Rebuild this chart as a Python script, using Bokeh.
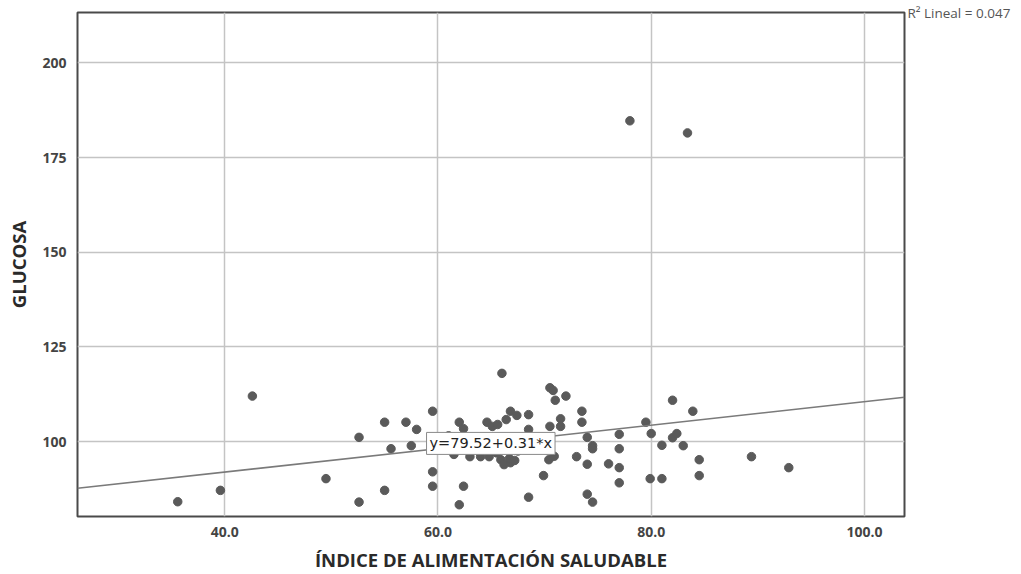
from bokeh.plotting import figure
from bokeh.models import Range1d, FixedTicker, PrintfTickFormatter, Label, ColumnDataSource, LinearAxis
from bokeh.embed import file_html
from bokeh.resources import INLINE

# Data
indice = [35.6, 39.6, 42.6, 49.5, 52.6, 52.6, 55.0, 55.0, 55.6, 57.0,
          57.5, 58.0, 59.5, 59.5, 59.5, 62.0, 62.4, 62.4, 62.0, 61.5,
          63.0, 64.0, 64.8, 64.6, 65.1, 65.6, 66.0, 66.4, 66.8, 67.4,
          68.5, 68.5, 65.9, 66.2, 66.8, 66.7, 67.2, 68.5, 69.9, 70.4,
          70.9, 70.5, 70.8, 71.0, 72.0, 71.5, 71.5, 70.5, 73.5, 73.5,
          74.0, 74.5, 74.5, 73.0, 74.0, 76.0, 77.0, 77.0, 77.0, 77.0,
          74.0, 74.5, 78.0, 83.4, 79.5, 80.0, 81.0, 79.9, 81.0, 82.0,
          83.9, 82.0, 82.4, 83.0, 84.5, 84.5, 89.4, 92.9,
          63.5, 65.0, 66.5, 68.0, 61.0, 67.5, 69.0, 65.5, 62.5]
glucosa = [84.1, 87.1, 112.0, 90.2, 101.1, 84.0, 105.1, 87.1, 98.1, 105.1,
           98.9, 103.2, 108.0, 92.0, 88.2, 105.1, 103.4, 88.2, 83.3, 96.6,
           96.0, 96.0, 96.0, 105.1, 104.0, 104.5, 118.0, 105.8, 108.0, 106.9,
           107.1, 103.2, 95.2, 93.9, 94.4, 95.5, 95.0, 85.3, 91.0, 95.2,
           96.1, 114.2, 113.5, 110.9, 112.0, 106.0, 104.0, 104.0, 108.0, 105.1,
           101.1, 98.9, 98.1, 96.0, 94.0, 94.1, 101.9, 98.1, 93.1, 89.1,
           86.1, 84.0, 184.7, 181.5, 105.1, 102.1, 99.0, 90.2, 90.2, 110.9,
           108.0, 101.0, 102.1, 98.9, 95.2, 91.0, 96.0, 93.1,
           100.5, 99.5, 100.0, 101.0, 101.5, 97.5, 99.0, 97.0, 98.5]

x_ticks = [40, 60, 80, 100]
y_ticks = [100, 125, 150, 175, 200]
intercept = 79.52
slope = 0.31
r2_text = "R\u00b2 Lineal = 0.047"
eq_text = "y=79.52+0.31*x"

X0, X1 = 26.2, 103.75
Y0, Y1 = 80.2, 213.3

W, H = 1021, 574
p = figure(width=W, height=H, output_backend="svg", toolbar_location=None,
           x_range=Range1d(X0, X1), y_range=Range1d(Y0, Y1),
           min_border_left=77, min_border_right=117, min_border_top=12, min_border_bottom=41,
           background_fill_color="white", border_fill_color="white")

p.outline_line_color = "#4a4a4a"
p.outline_line_width = 2

for ax in (p.xaxis[0], p.yaxis[0]):
    ax.axis_line_color = None
    ax.major_tick_line_color = None
    ax.minor_tick_line_color = None
    ax.major_label_text_font = "Open Sans"
    ax.major_label_text_font_style = "bold"
    ax.major_label_text_font_size = "14px"
    ax.major_label_text_color = "#444444"
    ax.axis_label_text_font = "Open Sans"
    ax.axis_label_text_font_style = "bold"
    ax.axis_label_text_font_size = "18.5px"
    ax.axis_label_text_color = "#2a2a2a"

p.xaxis.ticker = FixedTicker(ticks=x_ticks)
p.yaxis.ticker = FixedTicker(ticks=y_ticks)
p.xaxis.formatter = PrintfTickFormatter(format="%.1f")
p.xaxis.axis_label = "ÍNDICE DE ALIMENTACIÓN SALUDABLE"
p.yaxis.axis_label = "GLUCOSA"
p.xaxis.major_label_standoff = 4
p.yaxis.major_label_standoff = 5
p.xaxis.axis_label_standoff = 7
p.yaxis.axis_label_standoff = 8

# right-side axis used only to carry the R² note
r_ax = LinearAxis(ticker=FixedTicker(ticks=[]), axis_label=r2_text,
                  axis_label_orientation="horizontal", axis_label_align="end",
                  axis_label_text_baseline="top",
                  axis_label_standoff=3, axis_line_color=None,
                  major_tick_line_color=None, minor_tick_line_color=None,
                  axis_label_text_font="Open Sans", axis_label_text_font_style="normal",
                  axis_label_text_font_size="13.5px", axis_label_text_color="#555555")
p.add_layout(r_ax, "right")

p.xgrid.ticker = FixedTicker(ticks=x_ticks)
p.ygrid.ticker = FixedTicker(ticks=y_ticks)
p.grid.grid_line_color = "#c4c4c4"
p.grid.grid_line_width = 1.5

src = ColumnDataSource(dict(x=indice, y=glucosa))
p.scatter("x", "y", source=src, size=8.5, fill_color="#5a5a5a", line_color="#5a5a5a")

lx = [X0, X1]
ly = [intercept + slope * v for v in lx]
p.line(lx, ly, line_color="#7a7a7a", line_width=1.6)

p.add_layout(Label(x=58.93, y=99.5, text=eq_text, text_baseline="middle", text_align="left",
                   text_font="DejaVu Sans", text_font_size="14.5px", text_color="#222222",
                   background_fill_color="white", border_line_color="#8a8a8a",
                   border_line_width=1, padding=3))

open("out.html", "w").write(file_html(p, INLINE))
